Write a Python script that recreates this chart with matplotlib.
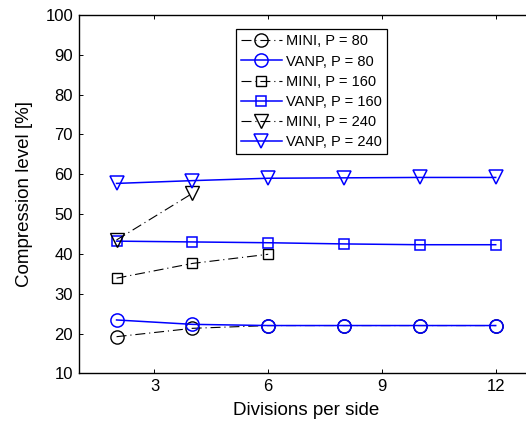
import matplotlib
matplotlib.use('Agg')
import matplotlib.pyplot as plt

plt.rcParams['font.family'] = ['Liberation Sans', 'DejaVu Sans']

# divisions per side
x_mini_80 = [2, 4, 6, 8, 10, 12]
y_mini_80 = [19.2, 21.3, 22.0, 22.0, 22.0, 22.0]
x_vanp_80 = [2, 4, 6, 8, 10, 12]
y_vanp_80 = [23.4, 22.3, 22.0, 22.0, 22.0, 22.0]
x_mini_160 = [2, 4, 6]
y_mini_160 = [33.9, 37.6, 39.9]
x_vanp_160 = [2, 4, 6, 8, 10, 12]
y_vanp_160 = [43.2, 43.0, 42.8, 42.5, 42.3, 42.3]
x_mini_240 = [2, 4]
y_mini_240 = [43.5, 55.2]
x_vanp_240 = [2, 4, 6, 8, 10, 12]
y_vanp_240 = [57.7, 58.4, 59.0, 59.1, 59.2, 59.2]

fig = plt.figure(figsize=(5.26, 4.29), dpi=100)
ax = fig.add_axes([0.1495, 0.1298, 0.865, 0.8352])

blue = '#0000ff'
mini = dict(color='black', linestyle=(0, (9, 3.5, 1, 3.5)), linewidth=0.8, mfc='none', mew=1.0)
vanp = dict(color=blue, linestyle='-', linewidth=1.1, mfc='none', mew=1.1)

ax.plot(x_mini_80, y_mini_80, marker='o', ms=9.5, label='MINI, P = 80', **mini)
ax.plot(x_vanp_80, y_vanp_80, marker='o', ms=9.5, label='VANP, P = 80', **vanp)
ax.plot(x_mini_160, y_mini_160, marker='s', ms=7.5, label='MINI, P = 160', **mini)
ax.plot(x_vanp_160, y_vanp_160, marker='s', ms=7.5, label='VANP, P = 160', **vanp)
ax.plot(x_mini_240, y_mini_240, marker='v', ms=10, label='MINI, P = 240', **mini)
ax.plot(x_vanp_240, y_vanp_240, marker='v', ms=10, label='VANP, P = 240', **vanp)

ax.set_xlim(1, 13)
ax.set_ylim(10, 100)
ax.set_xticks([3, 6, 9, 12])
ax.set_yticks(range(10, 101, 10))
ax.tick_params(direction='in', top=True, right=False, length=3, labelsize=12, width=0.7, pad=4)
for s in ax.spines.values():
    s.set_linewidth(1.0)
ax.spines['right'].set_visible(False)

ax.set_xlabel('Divisions per side', fontsize=13.5, labelpad=6)
ax.set_ylabel('Compression level [%]', fontsize=13.5, labelpad=9)

leg = ax.legend(loc='upper left', bbox_to_anchor=(0.345, 0.96), numpoints=1,
                fontsize=10.5, fancybox=False, framealpha=1, edgecolor='black',
                handlelength=2.8, borderpad=0.35, labelspacing=0.42, handletextpad=0.3,
                borderaxespad=0)
leg.get_frame().set_linewidth(0.9)

fig.savefig('out.png', dpi=100)
